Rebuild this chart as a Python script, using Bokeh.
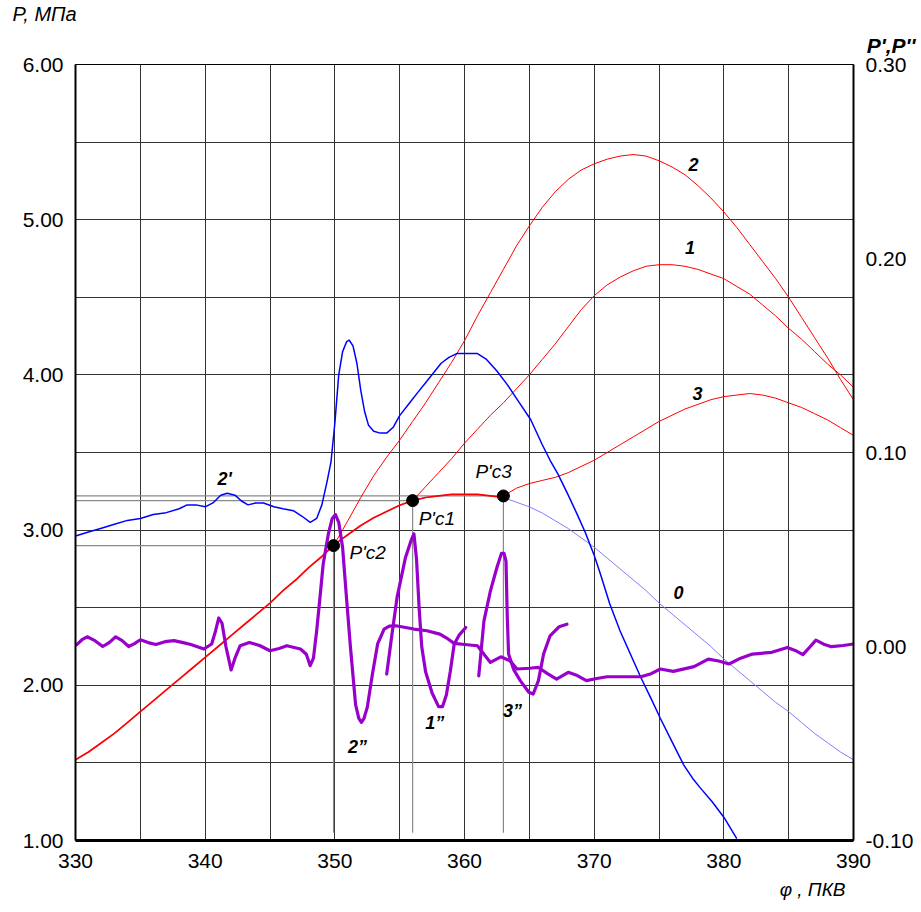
from bokeh.plotting import figure
from bokeh.models import Range1d, LinearAxis, FixedTicker, PrintfTickFormatter, Label, ColumnDataSource, Title
from bokeh.core.properties import value
from bokeh.embed import file_html
from bokeh.resources import INLINE

# ---------------- data ----------------
x_ticks = [330, 340, 350, 360, 370, 380, 390]
x_grid = [330, 335, 340, 345, 350, 355, 360, 365, 370, 375, 380, 385, 390]
p_ticks = [1.0, 2.0, 3.0, 4.0, 5.0, 6.0]
p_grid = [1.0, 1.5, 2.0, 2.5, 3.0, 3.5, 4.0, 4.5, 5.0, 5.5, 6.0]
d_ticks = [-0.1, 0.0, 0.1, 0.2, 0.3]

# curve 0 (motoring)
phi0 = list(range(330, 391))
p0 = [1.52, 1.57, 1.63, 1.69, 1.76, 1.83, 1.90, 1.97, 2.04, 2.11,
      2.18, 2.25, 2.32, 2.39, 2.46, 2.53, 2.61, 2.68, 2.76, 2.83,
      2.91, 2.97, 3.03, 3.08, 3.12, 3.16, 3.19, 3.21, 3.22, 3.23,
      3.23, 3.23, 3.22, 3.21, 3.18, 3.15, 3.11, 3.06, 3.01, 2.95,
      2.89, 2.82, 2.75, 2.68, 2.61, 2.53, 2.46, 2.39, 2.32, 2.25,
      2.17, 2.10, 2.03, 1.96, 1.89, 1.83, 1.76, 1.69, 1.63, 1.57, 1.52]

# curve 2 (branch at P'c2)
phi2 = [349.9] + list(range(351, 391))
p2 = [2.90, 3.06, 3.21, 3.35, 3.47, 3.58, 3.70, 3.82, 3.95, 4.08,
      4.22, 4.38, 4.53, 4.68, 4.83, 4.96, 5.08, 5.18, 5.26, 5.32,
      5.36, 5.39, 5.41, 5.42, 5.41, 5.38, 5.34, 5.29, 5.22, 5.14,
      5.05, 4.95, 4.84, 4.73, 4.62, 4.50, 4.37, 4.24, 4.11, 3.97, 3.84]

# curve 1 (branch at P'c1)
phi1 = list(range(356, 391))
p1 = [3.19, 3.28, 3.37, 3.46, 3.56, 3.65, 3.74, 3.82, 3.91, 4.00,
      4.10, 4.20, 4.31, 4.42, 4.51, 4.58, 4.63, 4.67, 4.70, 4.71,
      4.71, 4.70, 4.68, 4.65, 4.62, 4.57, 4.52, 4.45, 4.38, 4.30,
      4.23, 4.15, 4.07, 4.00, 3.92]

# curve 3 (branch at P'c3)
phi3 = list(range(363, 391))
p3 = [3.22, 3.27, 3.30, 3.32, 3.34, 3.37, 3.41, 3.45, 3.50, 3.55,
      3.60, 3.65, 3.70, 3.74, 3.78, 3.81, 3.84, 3.86, 3.87, 3.88,
      3.87, 3.85, 3.82, 3.79, 3.75, 3.71, 3.66, 3.61]

# first derivative P' (curve 2')
phi_d1 = [330.0, 331.0, 332.0, 333.0, 334.0, 335.0, 336.0, 337.0, 338.0, 338.6,
          339.3, 340.0, 340.6, 341.2, 341.7, 342.3, 342.8, 343.3, 343.9, 344.5,
          345.3, 346.0, 346.8, 347.5, 348.1, 348.6, 349.0, 349.4, 349.7, 350.0,
          350.3, 350.6, 350.9, 351.1, 351.4, 351.7, 352.0, 352.3, 352.6, 353.0,
          353.5, 354.0, 354.5, 355.0, 355.7, 356.4, 357.0, 357.6, 358.2, 358.8,
          359.4, 360.2, 361.0, 361.7, 362.5, 363.3, 364.2, 365.1, 366.0, 366.6,
          367.2, 368.0, 368.7, 369.3, 370.0, 370.5, 371.2, 372.0, 372.8, 373.6,
          374.4, 375.1, 376.0, 376.9, 377.6, 378.2, 379.1, 380.0, 381.0]
d1 = [0.057, 0.059, 0.061, 0.063, 0.065, 0.066, 0.068, 0.069, 0.071, 0.073,
      0.073, 0.072, 0.074, 0.078, 0.079, 0.078, 0.075, 0.073, 0.074, 0.074,
      0.072, 0.071, 0.070, 0.067, 0.064, 0.066, 0.073, 0.085, 0.095, 0.115,
      0.140, 0.152, 0.157, 0.158, 0.155, 0.146, 0.132, 0.121, 0.114, 0.111,
      0.110, 0.110, 0.113, 0.119, 0.125, 0.131, 0.136, 0.141, 0.146, 0.149,
      0.151, 0.151, 0.151, 0.148, 0.142, 0.135, 0.126, 0.117, 0.104, 0.096,
      0.089, 0.078, 0.068, 0.059, 0.047, 0.037, 0.022, 0.008, -0.004, -0.016,
      -0.027, -0.037, -0.049, -0.061, -0.068, -0.073, -0.080, -0.088, -0.099]

# second derivative P'' (curve 2'')
phi_d2 = [330.1, 330.5, 330.9, 331.5, 332.1, 332.6, 333.1, 333.6, 334.1, 334.55,
          335.0, 335.6, 336.2, 336.9, 337.6, 338.3, 338.9, 339.9, 340.5, 340.8,
          341.05, 341.3, 341.6, 342.0, 342.3, 342.7, 343.4, 344.2, 345.0, 345.7,
          346.3, 347.35, 347.8, 348.1, 348.35, 348.6, 348.85, 349.1, 349.5, 349.8,
          350.05, 350.3, 350.6, 350.9, 351.2, 351.6, 351.85, 352.05, 352.25, 352.5,
          352.9, 353.3, 353.8, 354.2, 354.7, 356.1, 357.1, 358.1, 358.7, 359.2,
          360.2, 361.0, 361.5, 362.0, 362.8, 363.5, 364.05, 365.0, 365.7, 366.4,
          367.1, 368.0, 368.7, 369.4, 370.2, 371.0, 372.3, 373.6, 374.4, 375.1,
          376.1, 377.7, 378.8, 379.6, 380.4, 381.3, 382.2, 383.7, 384.9, 385.5,
          386.1, 386.6, 387.1, 387.7, 388.3, 389.2, 390.0]
d2 = [0.001, 0.0035, 0.005, 0.003, 0.000, 0.002, 0.005, 0.003, 0.000, 0.0015,
      0.0035, 0.002, 0.001, 0.0025, 0.003, 0.002, 0.001, -0.0013, 0.0013, 0.008,
      0.0147, 0.012, 0.000, -0.0121, -0.006, 0.0004, 0.0021, 0.0005, -0.0022, -0.001,
      0.0004, -0.0013, -0.004, -0.0099, -0.006, 0.0081, 0.025, 0.0424, 0.058, 0.066,
      0.068, 0.064, 0.051, 0.025, 0.000, -0.030, -0.037, -0.0391, -0.037, -0.0314,
      -0.0142, 0.0013, 0.009, 0.0105, 0.0107, 0.009, 0.0081, 0.0064, 0.004, 0.0016,
      0.0009, 0.0004, -0.004, -0.0082, -0.0053, -0.0073, -0.0116, -0.0112, -0.0108, -0.014,
      -0.0168, -0.0133, -0.015, -0.0176, -0.0165, -0.0156, -0.0156, -0.0156, -0.014, -0.0116,
      -0.0128, -0.0104, -0.0065, -0.0075, -0.0090, -0.006, -0.0039, -0.0030, -0.0005, -0.002,
      -0.0042, -0.0005, 0.0033, 0.0012, -0.0001, 0.0005, 0.0013]

# second derivative, curve 1''
phi_d2_1 = [354.0, 354.4, 354.8, 355.45, 355.9, 356.1, 356.3, 356.5, 356.7, 357.0,
            357.5, 358.0, 358.3, 358.6, 358.9, 359.2, 359.6, 360.1]
d2_1 = [-0.0142, 0.006, 0.0253, 0.0459, 0.055, 0.058, 0.045, 0.020, 0.000, -0.013,
        -0.024, -0.031, -0.031, -0.025, -0.013, 0.001, 0.006, 0.0098]

# second derivative, curve 3''
phi_d2_3 = [361.1, 361.5, 362.0, 362.5, 362.85, 363.05, 363.2, 363.3, 363.4, 363.8,
            364.3, 364.96, 365.3, 365.7, 366.1, 366.6, 367.3, 367.9]
d2_3 = [-0.0151, 0.0132, 0.0287, 0.0407, 0.0480, 0.0480, 0.044, 0.015, -0.0039, -0.012,
        -0.0176, -0.0236, -0.0245, -0.0176, -0.0039, 0.0055, 0.0102, 0.0115]

# characteristic points
pc_names = ["P'c1", "P'c2", "P'c3"]
pc_phi = [356.0, 349.9, 363.0]
pc_p = [3.19, 2.90, 3.22]

# ---------------- figure ----------------
FONT = "Liberation Sans"

p = figure(width=921, height=912, x_range=Range1d(330, 390), y_range=Range1d(1, 6),
           output_backend="svg", toolbar_location=None, title=None,
           min_border_left=75, min_border_right=68, min_border_top=63, min_border_bottom=72)
p.extra_y_ranges = {"d": Range1d(-0.1, 0.3)}
p.background_fill_color = "white"
p.border_fill_color = "white"
p.outline_line_color = "black"
p.outline_line_width = 1

p.xgrid.ticker = FixedTicker(ticks=x_grid)
p.ygrid.ticker = FixedTicker(ticks=p_grid)
for g in (p.xgrid, p.ygrid):
    g.grid_line_color = "#333333"
    g.grid_line_width = 1
    g.grid_line_alpha = 1.0

xa = p.xaxis[0]
xa.ticker = FixedTicker(ticks=x_ticks)
ya = p.yaxis[0]
ya.ticker = FixedTicker(ticks=p_ticks)
ya.formatter = PrintfTickFormatter(format="%.2f")

ra = LinearAxis(y_range_name="d", ticker=FixedTicker(ticks=d_ticks),
                formatter=PrintfTickFormatter(format="%.2f"))
p.add_layout(ra, "right")

for ax, lw, so in ((xa, 3, 13), (ya, 2, 12), (ra, 2, 12)):
    ax.axis_line_color = "black"
    ax.axis_line_width = lw
    ax.major_tick_in = 0
    ax.major_tick_out = 0
    ax.minor_tick_line_color = None
    ax.major_label_text_font = FONT
    ax.major_label_text_font_size = "21px"
    ax.major_label_text_color = "black"
    ax.major_label_standoff = so

# reference lines to characteristic points
for xp, yp in zip(pc_phi, pc_p):
    p.segment(x0=[330], y0=[yp], x1=[xp], y1=[yp], line_color="#8a8a8a", line_width=1.2)
    p.segment(x0=[xp], y0=[yp], x1=[xp], y1=[1.05], line_color="#8a8a8a", line_width=1.2)

# curve 0
p.line(phi0, p0, line_color="#7f7fff", line_width=1)

# red compression part (common) and branches
comp_phi = [a for a in phi0 if a <= 363]
comp_p = p0[:len(comp_phi)]
p.line(comp_phi, comp_p, line_color="#ff0000", line_width=1.7)
p.line(phi2, p2, line_color="#ff0000", line_width=1)
p.line(phi1, p1, line_color="#ff0000", line_width=1)
p.line(phi3, p3, line_color="#ff0000", line_width=1)

# P'
p.line(phi_d1, d1, y_range_name="d", line_color="#0000ff", line_width=1.5)

# P''
for xs, ys in ((phi_d2, d2), (phi_d2_1, d2_1), (phi_d2_3, d2_3)):
    p.line(xs, ys, y_range_name="d", line_color="#9900cc", line_width=3.2,
           line_join="round", line_cap="round")

# points
p.scatter(pc_phi, pc_p, size=12, color="black")

# labels for points
pt_src = ColumnDataSource(dict(x=pc_phi, y=pc_p, t=pc_names,
                               xo=[6, 16, -28], yo=[18, 7, -24]))
p.text(x="x", y="y", text="t", source=pt_src, x_offset="xo", y_offset="yo",
       text_font=value(FONT), text_font_size="19px", text_font_style="italic",
       text_baseline="middle", text_align="left", text_color="black")

def lbl(x, y, t):
    p.add_layout(Label(x=x, y=y, text=t, text_font=FONT, text_font_size="18px",
                       text_font_style="bold italic", text_align="center",
                       text_baseline="middle", text_color="black"))

lbl(377.66, 5.357, "2")
lbl(377.4, 4.82, "1")
lbl(377.97, 3.88, "3")
lbl(376.5, 2.596, "0")
lbl(341.5, 3.33, "2'")
lbl(351.75, 1.605, "2\u201d")
lbl(357.7, 1.76, "1\u201d")
lbl(363.7, 1.836, "3\u201d")

# axis titles
p.add_layout(Title(text="P',P''", align="right", offset=-62, standoff=15,
                   text_font=FONT, text_font_size="21px", text_font_style="bold italic",
                   text_color="black"), "above")
p.add_layout(Title(text="P, МПа", align="left", offset=-63, standoff=0,
                   text_font=FONT, text_font_size="20px", text_font_style="italic",
                   text_color="black"), "above")
p.add_layout(Title(text="\u03c6 , ПКВ", align="right", offset=8, standoff=12,
                   text_font=FONT, text_font_size="19px", text_font_style="italic",
                   text_color="black"), "below")

open("out.html", "w").write(file_html(p, INLINE))
